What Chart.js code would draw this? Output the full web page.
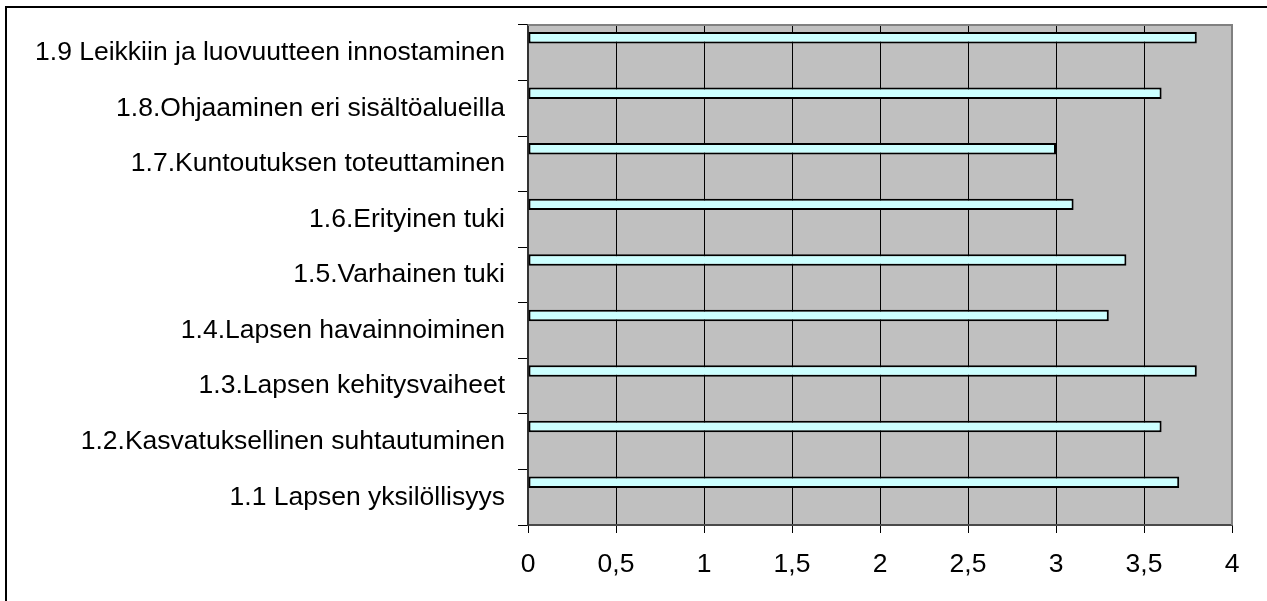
<!DOCTYPE html>
<html>
<head>
<meta charset="utf-8">
<script src="https://cdn.jsdelivr.net/npm/chart.js@4"></script>
<style>
  html, body { margin: 0; padding: 0; background: #fff; }
  #wrap { position: relative; width: 1267px; height: 601px; }
</style>
</head>
<body>
<div id="wrap"><canvas id="chart"></canvas></div>
<script>
  const categories = [
    "1.9 Leikkiin ja luovuutteen innostaminen",
    "1.8.Ohjaaminen eri sisältöalueilla",
    "1.7.Kuntoutuksen toteuttaminen",
    "1.6.Erityinen tuki",
    "1.5.Varhainen tuki",
    "1.4.Lapsen havainnoiminen",
    "1.3.Lapsen kehitysvaiheet",
    "1.2.Kasvatuksellinen suhtautuminen",
    "1.1 Lapsen yksilöllisyys",
  ];
  const scores = [3.8, 3.6, 3.0, 3.1, 3.4, 3.3, 3.8, 3.6, 3.7];
  const xTicks = [0, 0.5, 1, 1.5, 2, 2.5, 3, 3.5, 4];

  const FONT = "'Liberation Sans', Arial, sans-serif";

  // gray plot area and the outer frame, Excel style
  const frame = {
    id: "frame",
    beforeDraw(chart) {
      const { ctx, chartArea: a } = chart;
      ctx.save();
      ctx.fillStyle = "#c0c0c0";
      ctx.fillRect(a.left, a.top, a.right - a.left, a.bottom - a.top);
      ctx.strokeStyle = "#000";
      ctx.lineWidth = 2;
      ctx.beginPath();
      ctx.moveTo(6, chart.height + 2);
      ctx.lineTo(6, 7);
      ctx.lineTo(chart.width + 2, 7);
      ctx.stroke();
      ctx.restore();
    },
    afterDatasetsDraw(chart) {
      const { ctx, chartArea: a } = chart;
      ctx.save();
      ctx.strokeStyle = "#808080";
      ctx.lineWidth = 2;
      ctx.beginPath();
      ctx.moveTo(a.left, a.top);
      ctx.lineTo(a.right, a.top);
      ctx.lineTo(a.right, a.bottom);
      ctx.stroke();
      ctx.restore();
    },
  };

  new Chart(document.getElementById("chart"), {
    type: "bar",
    data: {
      labels: categories,
      datasets: [
        {
          label: "Keskiarvo",
          data: scores,
          backgroundColor: "#ccffff",
          borderColor: "#000",
          borderWidth: 2,
          borderSkipped: false,
          categoryPercentage: 0.814,
          barPercentage: 0.76,
        },
        // empty slots so the bar sits high in its band like the original
        { label: "", data: [], categoryPercentage: 0.814, barPercentage: 0.76 },
        { label: "", data: [], categoryPercentage: 0.814, barPercentage: 0.76 },
      ],
    },
    options: {
      indexAxis: "y",
      responsive: true,
      maintainAspectRatio: false,
      animation: false,
      layout: { padding: { top: 25, right: 35, left: 0, bottom: 0 } },
      plugins: { legend: { display: false }, tooltip: { enabled: false } },
      scales: {
        x: {
          min: 0,
          max: 4,
          afterBuildTicks: (axis) => { axis.ticks = xTicks.map((v) => ({ value: v })); },
          afterFit: (axis) => { axis.height = 76; },
          ticks: {
            color: "#000",
            padding: 16,
            font: { family: FONT, size: 26.5 },
            callback: (v) => String(v).replace(".", ","),
          },
          grid: { color: "#000", lineWidth: 1, tickLength: 8 },
          border: { color: "#4a4a4a", width: 2 },
        },
        y: {
          afterFit: (axis) => {
            axis.width = 528;
            axis.paddingTop = 0;
            axis.paddingBottom = 0;
          },
          ticks: {
            color: "#000",
            padding: 13,
            font: { family: FONT, size: 26.5 },
          },
          grid: { drawOnChartArea: false, color: "#000", tickLength: 10, offset: true },
          border: { color: "#333", width: 2 },
        },
      },
    },
    plugins: [frame],
  });
</script>
</body>
</html>
